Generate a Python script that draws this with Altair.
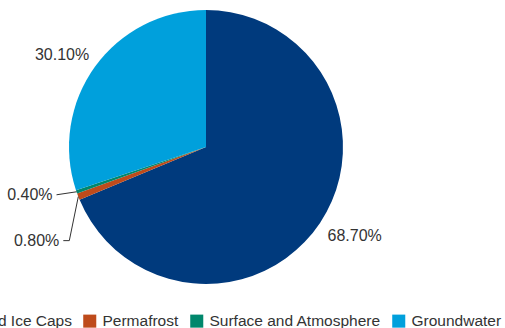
import altair as alt
import pandas as pd

categories = ["Glaciers and Ice Caps", "Permafrost", "Surface and Atmosphere", "Groundwater"]
values = [68.70, 0.80, 0.40, 30.10]
colors = ["#003A7D", "#BE4B1B", "#00876C", "#00A0DC"]

df = pd.DataFrame({
    "category": categories,
    "value": values,
    "idx": list(range(len(categories))),
})

CX, CY, R = 206, 147, 137
FONT = "Liberation Sans"
TXT = "#333333"

color_scale = alt.Scale(domain=categories, range=colors)

base = alt.Chart(df).transform_joinaggregate(
    total="sum(value)"
).transform_window(
    cum="sum(value)", sort=[alt.SortField("idx", order="ascending")]
).transform_calculate(
    mid="(datum.cum - datum.value / 2) / datum.total * 2 * PI",
).encode(
    theta=alt.Theta("value:Q", stack=True),
    order=alt.Order("idx:Q", sort="ascending"),
    x=alt.value(CX),
    y=alt.value(CY),
)

arcs = base.mark_arc(radius=R, stroke=None).encode(
    color=alt.Color(
        "category:N",
        scale=color_scale,
        sort=categories,
        legend=alt.Legend(
            orient="none",
            legendX=-101,
            legendY=313,
            direction="horizontal",
            title=None,
            symbolType="square",
            symbolSize=170,
            symbolStrokeWidth=0,
            labelFont=FONT,
            labelFontSize=15.5,
            labelColor=TXT,
            labelOffset=5,
            labelLimit=400,
            columnPadding=10,
            padding=0,
        ),
    )
)

# outside-end labels: upper-left quadrant anchored at bottom-right corner,
# lower-right quadrant anchored at top-left corner
label_tl = base.transform_calculate(
    lab="datum.value > 5 && datum.mid > PI ? format(datum.value, '.2f') + '%' : ''"
).mark_text(
    radius=144, font=FONT, fontSize=16, color=TXT, align="right", baseline="bottom"
).encode(text="lab:N")

label_br = base.transform_calculate(
    lab="datum.value > 5 && datum.mid <= PI ? format(datum.value, '.2f') + '%' : ''"
).mark_text(
    radius=146, font=FONT, fontSize=16, color=TXT, align="left", baseline="top"
).encode(text="lab:N")

# leader lines for the two small slices, computed from the stacked angles
small = alt.Chart(df).transform_joinaggregate(
    total="sum(value)"
).transform_window(
    cum="sum(value)", sort=[alt.SortField("idx", order="ascending")]
).transform_calculate(
    mid="(datum.cum - datum.value / 2) / datum.total * 2 * PI",
).transform_calculate(
    ex=f"{CX} + {R} * sin(datum.mid)",
    ey=f"{CY} - {R} * cos(datum.mid)",
).transform_filter(
    "datum.value < 5"
).transform_calculate(
    bx="datum.value < 0.6 ? datum.ex - 20 : datum.ex - 9",
    by="datum.value < 0.6 ? datum.ey + 3 : datum.ey + 44",
).transform_calculate(
    tx="datum.value < 0.6 ? datum.bx : datum.bx - 6",
    ty="datum.by",
    lab="format(datum.value, '.2f') + '%'",
)

leader1 = small.mark_rule(color=TXT, strokeWidth=1).encode(
    x=alt.X("ex:Q", scale=None), y=alt.Y("ey:Q", scale=None),
    x2="bx:Q", y2="by:Q",
)
leader2 = small.mark_rule(color=TXT, strokeWidth=1).encode(
    x=alt.X("bx:Q", scale=None), y=alt.Y("by:Q", scale=None),
    x2="tx:Q", y2="ty:Q",
)
small_text = small.mark_text(
    font=FONT, fontSize=16, color=TXT, align="right", baseline="middle", dx=-4
).encode(
    x=alt.X("tx:Q", scale=None), y=alt.Y("ty:Q", scale=None), text="lab:N"
)

chart = alt.layer(arcs, label_tl, label_br, leader1, leader2, small_text).properties(
    width=505, height=328,
    autosize=alt.AutoSizeParams(type="none"),
    padding=0,
).configure_view(stroke=None)

chart.save("out.html", embed_options={"renderer": "svg", "actions": False})
